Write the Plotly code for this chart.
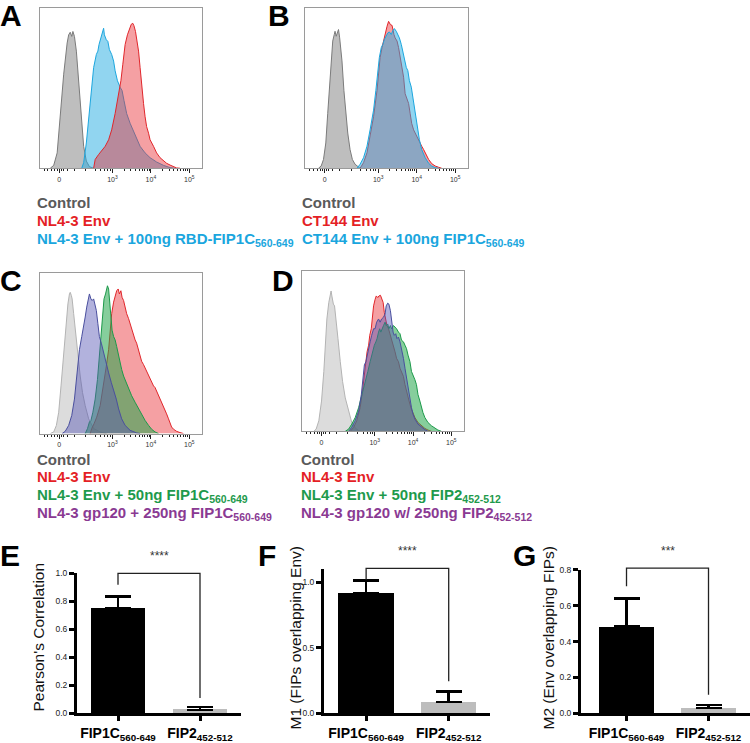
import math
import plotly.graph_objects as go

W, H = 750, 743

# ---------------- histogram data (x in display decades: 0 -> 1.61, 10^3 -> 3, 10^4 -> 4, 10^5 -> 5; y in % of max) ----
A_ctrl_x = [1.38,1.47,1.56,1.64,1.73,1.82,1.86,1.90,1.94,1.97,2.01,2.06,2.12,2.18,2.25,2.32,2.40,2.51]
A_ctrl_y = [0,1.8,9.6,32.2,58.8,78.3,83.4,85.0,82.4,85.5,82.4,73.2,54.7,34.2,13.7,4.5,1.0,0]
A_env_x = [2.51,2.55,2.64,2.72,2.81,2.90,2.98,3.07,3.16,3.22,3.27,3.33,3.39,3.44,3.49,3.53,3.56,3.60,3.63,3.68,
           3.72,3.76,3.81,3.85,3.89,3.94,3.98,4.07,4.15,4.24,4.33,4.41,4.50,4.59,4.67,4.76]
A_env_y = [0,5.5,8.6,10.7,13.7,17.8,24.0,34.2,46.5,54.7,65.0,77.3,83.4,87.5,90.0,90.6,89.1,85.5,81.4,73.2,
           62.9,50.6,40.4,32.2,26.0,21.9,17.8,13.7,9.6,6.6,4.5,3.1,2.0,1.0,0.2,0]
A_fip_x = [2.20,2.25,2.32,2.38,2.44,2.51,2.58,2.62,2.65,2.70,2.74,2.77,2.79,2.84,2.88,2.92,2.98,3.03,3.07,3.13,
           3.20,3.25,3.30,3.37,3.46,3.55,3.63,3.72,3.85,3.98,4.15,4.33,4.50,4.63]
A_fip_y = [0,3.5,15.8,32.2,48.6,62.9,71.1,73.2,77.3,81.4,85.5,87.5,83.4,80.3,79.3,74.2,71.1,67.0,60.9,54.7,
           50.6,48.6,42.4,34.2,28.1,23.0,17.8,13.7,9.6,6.6,3.9,1.8,0.4,0]

B_ctrl_x = [1.45,1.52,1.58,1.64,1.69,1.74,1.78,1.82,1.86,1.88,1.91,1.94,1.97,2.00,2.06,2.11,2.16,2.21,2.27,2.33,2.40,2.47,2.53]
B_ctrl_y = [0,1.4,5.5,15.8,34.3,52.8,67.1,79.5,83.6,85.6,82.5,85.6,86.7,81.5,67.1,48.7,34.3,22.0,11.7,5.5,2.5,0.8,0]
B_env_x = [2.53,2.62,2.71,2.79,2.88,2.97,3.01,3.05,3.10,3.14,3.18,3.23,3.27,3.29,3.32,3.36,3.38,3.41,3.44,3.49,
           3.53,3.57,3.62,3.66,3.70,3.75,3.79,3.83,3.87,3.92,3.96,4.00,4.05,4.09,4.13,4.18,4.22,4.31,4.39,4.48,4.57,4.65]
B_env_y = [0,3.5,9.7,19.9,32.2,48.7,61.0,69.2,75.4,79.5,85.6,88.7,91.8,90.8,89.7,89.3,86.7,83.6,81.5,79.5,
           75.4,69.2,63.0,56.9,46.6,42.5,40.5,34.3,28.1,24.0,22.0,19.9,16.8,14.8,13.8,11.7,9.7,5.5,2.9,1.4,0.6,0]
B_fip_x = [2.45,2.53,2.62,2.71,2.79,2.88,2.94,2.99,3.03,3.08,3.12,3.16,3.21,3.25,3.29,3.34,3.38,3.42,3.47,3.51,
           3.55,3.60,3.64,3.68,3.73,3.77,3.81,3.86,3.90,3.94,3.99,4.03,4.07,4.13,4.22,4.31,4.39,4.48,4.57]
B_fip_y = [0,2.5,6.6,13.8,24.0,36.3,48.7,61.0,69.2,75.4,77.4,80.5,82.5,84.6,85.2,83.6,86.0,87.3,85.6,83.6,
           81.5,77.4,73.3,68.2,63.0,61.0,54.8,50.7,44.6,36.3,28.1,22.0,17.9,11.7,6.6,3.1,1.4,0.4,0]

C_ctrl_x = [1.38,1.47,1.54,1.60,1.66,1.73,1.79,1.84,1.88,1.90,1.93,1.95,1.99,2.03,2.07,2.12,2.16,2.22,2.29,2.38,2.51,2.68,2.85]
C_ctrl_y = [0,1.0,5.1,13.3,29.7,50.2,68.6,80.9,87.1,88.1,86.1,84.0,74.8,64.5,56.4,46.1,35.9,25.6,17.4,9.2,3.1,1.0,0]
C_env_x = [2.42,2.46,2.52,2.59,2.68,2.77,2.84,2.90,2.94,2.98,3.03,3.07,3.11,3.15,3.18,3.22,3.25,3.29,3.33,3.37,
           3.42,3.46,3.50,3.55,3.59,3.63,3.68,3.72,3.76,3.81,3.85,3.89,3.94,3.98,4.02,4.07,4.11,4.15,4.20,4.24,
           4.28,4.33,4.37,4.41,4.46,4.50,4.54,4.59,4.67,4.76,4.85]
C_env_y = [0,3.1,6.1,10.2,17.4,29.7,42.0,52.3,62.5,74.8,82.0,86.1,89.1,90.2,87.1,89.1,85.0,83.0,78.9,74.8,
           71.7,68.6,64.5,61.5,58.4,56.4,52.3,48.2,45.1,43.0,41.0,38.9,35.9,33.8,31.8,29.7,28.7,26.6,23.6,21.5,
           19.5,17.4,14.3,12.3,9.2,6.1,4.1,2.7,1.4,0.6,0]
C_fip_x = [2.29,2.35,2.40,2.44,2.49,2.55,2.61,2.66,2.71,2.75,2.78,2.82,2.85,2.87,2.90,2.92,2.96,2.99,3.03,3.07,
           3.11,3.16,3.20,3.24,3.29,3.36,3.42,3.50,3.59,3.68,3.76,3.85,3.94,4.02,4.11,4.20]
C_fip_y = [0,3.1,7.2,8.2,13.3,21.5,33.8,48.2,62.5,76.8,84.0,87.1,91.2,92.2,90.2,84.0,70.7,64.5,60.5,58.4,
           54.3,48.2,44.1,40.0,35.9,31.8,27.7,23.6,19.5,15.4,12.3,8.2,5.1,2.7,1.0,0]
C_gp_x = [1.69,1.77,1.86,1.94,2.01,2.07,2.14,2.20,2.25,2.29,2.33,2.38,2.40,2.44,2.47,2.51,2.53,2.58,2.62,2.66,
          2.71,2.77,2.84,2.90,2.97,3.03,3.10,3.16,3.24,3.33,3.46,3.63,3.72]
C_gp_y = [0,1.4,5.1,11.3,21.5,37.9,52.3,60.5,66.6,72.7,78.9,85.0,87.1,84.0,83.0,84.0,82.0,76.8,68.6,60.5,
          56.4,50.2,44.1,37.9,31.8,27.7,21.5,15.4,9.2,5.1,2.0,0.4,0]

D_ctrl_x = [1.41,1.47,1.54,1.61,1.67,1.71,1.75,1.80,1.83,1.86,1.88,1.92,1.95,1.99,2.04,2.10,2.16,2.23,2.32,2.40,2.49,2.58,2.66]
D_ctrl_y = [0,1.4,6.6,18.9,37.4,53.8,70.2,80.5,85.6,87.7,84.6,79.5,78.4,70.2,57.9,43.5,31.2,20.9,11.7,5.5,2.1,0.4,0]
D_env_x = [2.36,2.45,2.53,2.62,2.68,2.73,2.77,2.80,2.84,2.87,2.91,2.94,2.97,3.01,3.04,3.08,3.11,3.15,3.18,3.22,
           3.25,3.29,3.32,3.36,3.40,3.44,3.49,3.53,3.57,3.62,3.66,3.70,3.75,3.79,3.83,3.87,3.92,3.96,4.05,4.13,
           4.22,4.31,4.39,4.48]
D_env_y = [0,2.5,6.6,14.8,25.1,35.3,43.5,49.7,53.8,60.0,64.1,72.3,78.4,82.5,84.6,83.6,84.6,85.0,82.5,80.5,
           74.3,68.2,66.1,64.1,61.0,56.9,53.8,49.7,45.6,43.5,39.4,37.4,34.3,29.2,25.1,20.9,16.8,13.8,8.6,5.5,
           3.5,1.8,0.8,0]
D_fip_x = [2.23,2.32,2.40,2.49,2.58,2.66,2.75,2.82,2.88,2.94,2.99,3.03,3.06,3.10,3.13,3.16,3.20,3.23,3.27,3.30,
           3.34,3.37,3.41,3.44,3.49,3.53,3.57,3.62,3.66,3.70,3.75,3.79,3.83,3.87,3.92,3.96,4.00,4.05,4.09,4.13,
           4.18,4.22,4.26,4.31,4.39,4.48,4.57,4.65,4.74]
D_fip_y = [0,1.4,4.5,8.6,14.8,23.0,31.2,37.4,43.5,49.7,53.8,55.9,57.9,62.0,64.1,62.0,65.1,66.1,68.2,66.1,
           67.1,64.1,66.1,64.1,66.1,65.1,64.1,62.0,61.0,56.9,55.9,53.8,51.7,47.6,43.5,37.4,35.3,32.2,29.2,23.0,
           18.9,14.8,11.7,8.6,5.5,3.5,2.1,0.8,0]
D_gp_x = [2.32,2.40,2.49,2.58,2.65,2.70,2.73,2.77,2.80,2.84,2.88,2.92,2.97,3.01,3.05,3.10,3.14,3.18,3.23,3.27,
          3.30,3.34,3.37,3.41,3.44,3.48,3.51,3.55,3.58,3.62,3.66,3.70,3.75,3.79,3.83,3.87,3.92,3.96,4.00,4.05,
          4.13,4.22,4.31,4.39]
D_gp_y = [0,2.5,6.6,12.7,23.0,33.3,41.5,43.5,47.6,51.7,55.9,60.0,64.1,64.1,68.2,70.2,68.2,70.2,71.3,73.3,
          78.4,80.1,79.5,75.4,68.2,62.0,60.0,61.0,57.9,58.9,55.9,51.7,45.6,39.4,33.3,27.1,20.9,14.8,10.7,7.6,
          4.5,2.5,1.0,0]

hist_tick_vals = [1.61, 3, 4, 5]
hist_tick_text = ["0", "10<sup>3</sup>", "10<sup>4</sup>", "10<sup>5</sup>"]

# ---------------- bar data ----------------
categories = ["FIP1C<sub>560-649</sub>", "FIP2<sub>452-512</sub>"]
pearson_mean = [0.75, 0.025]
pearson_err = [0.085, 0.02]
m1_mean = [0.915, 0.088]
m1_err = [0.10, 0.08]
m2_mean = [0.483, 0.031]
m2_err = [0.156, 0.015]
signif = ["****", "****", "***"]

# ---------------- legends ----------------
legend_A = [("Control", "#5a5a5a"), ("NL4-3 Env", "#e41f26"),
            ("NL4-3 Env + 100ng RBD-FIP1C<sub>560-649</sub>", "#1aa6de")]
legend_B = [("Control", "#5a5a5a"), ("CT144 Env", "#e41f26"),
            ("CT144 Env + 100ng FIP1C<sub>560-649</sub>", "#1aa6de")]
legend_C = [("Control", "#5a5a5a"), ("NL4-3 Env", "#e41f26"),
            ("NL4-3 Env + 50ng FIP1C<sub>560-649</sub>", "#1e9a4c"),
            ("NL4-3 gp120 + 250ng FIP1C<sub>560-649</sub>", "#8a3a93")]
legend_D = [("Control", "#5a5a5a"), ("NL4-3 Env", "#e41f26"),
            ("NL4-3 Env + 50ng FIP2<sub>452-512</sub>", "#1e9a4c"),
            ("NL4-3 gp120 w/ 250ng FIP2<sub>452-512</sub>", "#8a3a93")]

# ---------------- styling ----------------
FONT = "Arial, Liberation Sans, Helvetica, sans-serif"
CTRL_DARK = ("#7b7b7b", "rgba(125,125,125,0.5)")
CTRL_LIGHT = ("#b3b3b3", "rgba(185,185,185,0.5)")
RED = ("#e0262b", "rgba(232,45,50,0.45)")
BLUE = ("#1ca6de", "rgba(35,172,226,0.5)")
GREEN = ("#1c994a", "rgba(35,165,75,0.55)")
LAV = ("#4a4f9e", "rgba(85,85,180,0.45)")

def px_x(p):
    return p / W

def px_y(p):
    return 1 - p / H

fig = go.Figure()

def hist(ax, x, y, col):
    fig.add_trace(go.Scatter(x=x, y=y, mode="lines", fill="tozeroy", fillcolor=col[1],
                             line=dict(color=col[0], width=1), xaxis="x" + ax, yaxis="y" + ax,
                             hoverinfo="skip", showlegend=False))

hist("", A_ctrl_x, A_ctrl_y, CTRL_DARK)
hist("", A_fip_x, A_fip_y, BLUE)
hist("", A_env_x, A_env_y, RED)
hist("2", B_ctrl_x, B_ctrl_y, CTRL_DARK)
hist("2", B_env_x, B_env_y, RED)
hist("2", B_fip_x, B_fip_y, BLUE)
hist("3", C_ctrl_x, C_ctrl_y, CTRL_LIGHT)
hist("3", C_env_x, C_env_y, RED)
hist("3", C_fip_x, C_fip_y, GREEN)
hist("3", C_gp_x, C_gp_y, LAV)
hist("4", D_ctrl_x, D_ctrl_y, CTRL_LIGHT)
hist("4", D_env_x, D_env_y, RED)
hist("4", D_fip_x, D_fip_y, GREEN)
hist("4", D_gp_x, D_gp_y, LAV)

def bars(ax, mean, err):
    fig.add_trace(go.Bar(x=categories, y=mean, width=0.67, marker=dict(color=["#000000", "#bdbdbd"], line=dict(width=0)),
                         error_y=dict(type="data", array=err, arrayminus=[0, 0], symmetric=False,
                                      color="#000000", thickness=2.5, width=13),
                         xaxis="x" + ax, yaxis="y" + ax, hoverinfo="skip", showlegend=False))

bars("5", pearson_mean, pearson_err)
bars("6", m1_mean, m1_err)
bars("7", m2_mean, m2_err)

minor_vals = [1.22, 1.32, 1.42, 1.50, 1.56, 1.66, 1.72, 1.82, 2.0, 2.3, 2.55, 2.7, 2.8, 2.88, 2.94]
minor_vals += [3 + math.log10(k) for k in range(2, 10)] + [4 + math.log10(k) for k in range(2, 10)]

def hist_axes(n, xl, xr, yt, yb):
    xa = dict(domain=[px_x(xl), px_x(xr)], range=[1.10, 5.34], anchor="y" + n,
              tickmode="array", tickvals=hist_tick_vals, ticktext=hist_tick_text,
              ticks="outside", ticklen=4, tickwidth=1, tickcolor="#222",
              minor=dict(tickmode="array", tickvals=minor_vals, ticks="outside", ticklen=2, tickcolor="#222"),
              tickfont=dict(size=7, color="#333", family=FONT),
              showline=True, mirror=True, linecolor="#9a9a9a", linewidth=1,
              showgrid=False, zeroline=False, fixedrange=True)
    ya = dict(domain=[px_y(yb), px_y(yt)], range=[0, 100], anchor="x" + n,
              showticklabels=False, ticks="", showline=True, mirror=True,
              linecolor="#9a9a9a", linewidth=1, showgrid=False, zeroline=False)
    return xa, ya

def bar_axes(n, xl, xr, xrange, yt, ymax, dtick):
    xa = dict(domain=[px_x(xl), px_x(xr)], range=xrange, anchor="y" + n, type="category",
              ticks="outside", ticklen=5, tickwidth=2.5, tickcolor="#000",
              tickfont=dict(size=14, color="#000", family=FONT, weight="bold"),
              showline=True, linecolor="#000", linewidth=3, showgrid=False, zeroline=False)
    ya = dict(domain=[px_y(719), px_y(yt)], range=[0, ymax], anchor="x" + n,
              tick0=0, dtick=dtick, tickformat=".1f",
              ticks="outside", ticklen=5, tickwidth=2.5, tickcolor="#000",
              tickfont=dict(size=8.5, color="#222", family=FONT),
              showline=True, linecolor="#000", linewidth=3, showgrid=False, zeroline=False)
    return xa, ya

layout_axes = {}
for n, key, box in [("", "", (39.5, 202.3, 3.3, 165.7)), ("2", "2", (305, 468.3, 3.3, 165.7)),
                    ("3", "3", (39.5, 202.3, 272.3, 435)), ("4", "4", (302, 464.3, 270.3, 432.7))]:
    xa, ya = hist_axes(n, *box)
    layout_axes["xaxis" + key] = xa
    layout_axes["yaxis" + key] = ya

BAR_X = {"5": [-0.5, 1.5], "6": [-0.51, 1.5], "7": [-0.555, 1.506]}
for key, (xl, xr, yt, ymax, dtick) in {
        "5": (77, 241, 577, 1.0, 0.2),
        "6": (324, 490, 572.7, 1.1, 0.5),
        "7": (581, 750, 573.3, 0.8, 0.2)}.items():
    xa, ya = bar_axes(key, xl, xr, BAR_X[key], yt, ymax, dtick)
    layout_axes["xaxis" + key] = xa
    layout_axes["yaxis" + key] = ya

annotations = []
def text(x, y, s, size, color="#000", bold=False, xanchor="left", angle=0):
    annotations.append(dict(x=px_x(x), y=px_y(y), xref="paper", yref="paper", text=s, showarrow=False,
                            xanchor=xanchor, yanchor="middle", textangle=angle,
                            font=dict(size=size, color=color, family=FONT, weight="bold" if bold else "normal")))

for lx, ys, leg in [(35, [200, 219, 238], legend_A), (300, [200, 219, 238], legend_B),
                    (35, [461, 479, 498, 516], legend_C), (299, [461, 479, 498, 516], legend_D)]:
    for yy, (s, c) in zip(ys, leg):
        text(lx, yy, s, 15, c, True)

for letter, x, y in [("A", -2, 11), ("B", 266, 11), ("C", -2, 280), ("D", 270, 280),
                     ("E", -2, 559), ("F", 256, 559), ("G", 511, 559)]:
    text(x, y, letter, 30, "#000", True)

text(38, 642, "Pearson's Correlation", 15.5, "#111", False, "center", -90)
text(295, 642, "M1 (FIPs overlapping Env)", 15.5, "#111", False, "center", -90)
text(548, 642, "M2 (Env overlapping FIPs)", 15.5, "#111", False, "center", -90)

# significance brackets (in axis-domain coordinates)
shapes = []
for key, ymax, ytop, yl, yr, star in [
        ("5", 1.0, 1.0, 0.92, 0.11, signif[0]),
        ("6", 1.1, 1.107, 1.02, 0.245, signif[1]),
        ("7", 0.8, 0.809, 0.709, 0.104, signif[2])]:
    xrange = BAR_X[key]
    fx = lambda v: (v - xrange[0]) / (xrange[1] - xrange[0])
    fy = lambda v: v / ymax
    path = "M {},{} L {},{} L {},{} L {},{}".format(fx(0), fy(yl), fx(0), fy(ytop), fx(1), fy(ytop), fx(1), fy(yr))
    shapes.append(dict(type="path", path=path, xref="x" + key + " domain", yref="y" + key + " domain",
                       line=dict(color="#222", width=1.3)))
    annotations.append(dict(x=fx(0.5), y=fy(ytop) + 0.06, xref="x" + key + " domain", yref="y" + key + " domain",
                            text=star, showarrow=False, xanchor="center", yanchor="bottom",
                            font=dict(size=12, color="#333", family=FONT)))

fig.update_layout(width=W, height=H, margin=dict(l=0, r=0, t=0, b=0),
                  paper_bgcolor="white", plot_bgcolor="white", showlegend=False,
                  annotations=annotations, shapes=shapes, bargap=0, **layout_axes)

fig.write_html("out.html", config={"displayModeBar": False},
               post_script="document.body.style.margin='0';document.body.style.padding='0';")
